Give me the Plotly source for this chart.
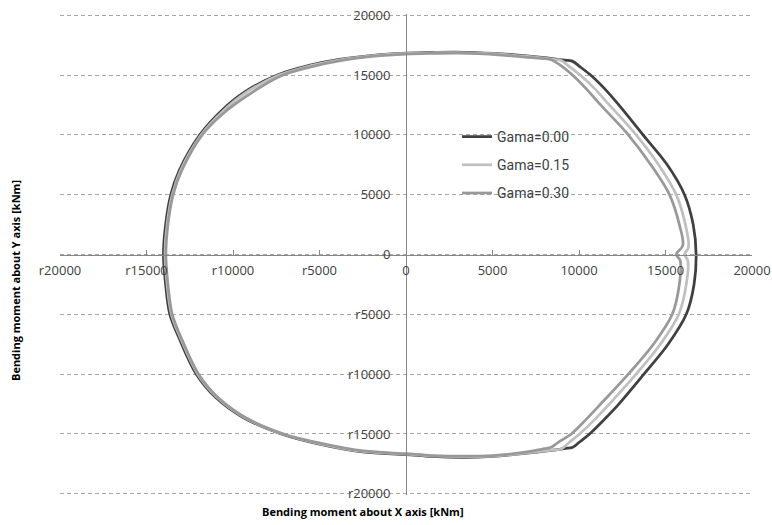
import plotly.graph_objects as go

# ---- data (kNm) ----
g000_x = [9610, 9150, 8000, 6000, 4000, 2900, 1500, 0, -1870, -3860, -5600, -7400, -9300, -10680, -11920,
          -13110, -13595, -13895, -14020, -13895, -13650, -13110, -12120, -10960, -9440, -7200, -5000, -2500, 0,
          1500, 3280, 5000, 7000, 9150, 9640, 10050, 10610, 11450, 12300, 13750, 15150, 16200, 16650, 16770,
          16600, 16100, 15100, 13700, 12300, 11450, 10750, 10050, 9610]
g000_y = [16160, 16240, 16450, 16720, 16880, 16920, 16900, 16830, 16650, 16300, 15800, 15030, 13600, 12000, 10000,
          7020, 5000, 2500, 0, -2500, -5000, -7000, -10000, -12000, -13600, -15000, -15850, -16500, -16720,
          -16880, -16950, -16880, -16600, -16220, -16110, -15650, -15000, -13800, -12500, -10000, -7500, -5000,
          -2500, 0, 2500, 5000, 7500, 10000, 12500, 13900, 14900, 15700, 16160]

g015_x = [8970, 8550, 7000, 5000, 3000, 1500, 0, -1850, -3820, -5550, -7330, -9220, -10600, -11840, -13030,
          -13510, -13810, -13930, -13810, -13560, -13030, -12040, -10880, -9360, -7120, -4950, -2480, 0,
          1500, 3280, 5000, 7000, 8550, 8970, 9400, 10030, 10900, 11750, 13300, 14700, 15770, 16200, 16290,
          16100, 16330, 16150, 15620, 14600, 13300, 11750, 10950, 10150, 9400, 8970]
g015_y = [16220, 16310, 16550, 16780, 16880, 16860, 16800, 16620, 16260, 15760, 14990, 13560, 11960, 10000, 7020,
          5000, 2500, 0, -2500, -5000, -7000, -10000, -12000, -13600, -15000, -15820, -16460, -16680,
          -16840, -16900, -16850, -16580, -16330, -16250, -15750, -15000, -13800, -12500, -10000, -7500, -5000,
          -2500, -500, 0, 600, 2500, 5000, 7500, 10000, 12500, 13800, 14900, 15750, 16220]

g030_x = [8390, 8000, 6500, 4500, 3000, 1500, 0, -1830, -3780, -5500, -7270, -9100, -10520, -11780, -12970,
          -13460, -13760, -13880, -13760, -13510, -12980, -11990, -10830, -9310, -7070, -4900, -2450, 0,
          1500, 3280, 5000, 7000, 8000, 8390, 8800, 9550, 10400, 11250, 12850, 14300, 15390, 15800, 15850,
          15620, 16000, 15800, 15230, 14150, 12850, 11250, 10450, 9700, 8900, 8390]
g030_y = [16280, 16360, 16550, 16760, 16830, 16810, 16750, 16570, 16200, 15680, 14900, 13350, 11850, 10000, 7000,
          5000, 2500, 0, -2500, -5000, -7000, -10000, -12000, -13600, -15000, -15780, -16420, -16650,
          -16800, -16850, -16800, -16500, -16230, -16110, -15700, -15000, -13800, -12500, -10000, -7500, -5000,
          -2500, -500, 0, 750, 2500, 5000, 7500, 10000, 12500, 13800, 14900, 15850, 16280]

series_names = ["Gama=0.00", "Gama=0.15", "Gama=0.30"]
tick_vals = [-20000, -15000, -10000, -5000, 0, 5000, 10000, 15000, 20000]
tick_text = ["r20000", "r15000", "r10000", "r5000", "0", "5000", "10000", "15000", "20000"]

colors = ["#404040", "#c0c0c0", "#999999"]

fig = go.Figure()
for name, xs, ys, c in zip(series_names, [g000_x, g015_x, g030_x], [g000_y, g015_y, g030_y], colors):
    fig.add_trace(go.Scatter(x=xs, y=ys, mode="lines", name=name, legendgroup=name,
                             line=dict(color=c, width=2.75, shape="spline", smoothing=1.0)))

tick_font = dict(family="Open Sans", size=13, color="#404040")

FW, FH = 772, 525
L, R, T, B = 60, 20, 14, 30
W, H = FW - L - R, FH - T - B


def px_x(p):
    return (p - L) / W


def px_y(p):
    return (FH - B - p) / H


fig.update_layout(
    width=FW, height=FH,
    margin=dict(l=L, r=R, t=T, b=B, autoexpand=False),
    paper_bgcolor="white", plot_bgcolor="white",
    showlegend=True,
    legend=dict(x=px_x(457), y=px_y(121), xanchor="left", yanchor="top",
                font=dict(family="Roboto", size=14, color="#404040"),
                bgcolor="rgba(0,0,0,0)", tracegroupgap=7, itemwidth=30),
    xaxis=dict(range=[-20000, 20000], tickvals=tick_vals, ticktext=tick_text,
               showgrid=False, zeroline=False, showline=True, linecolor="#868686", linewidth=1,
               anchor="free", position=0.5, ticks="inside", ticklen=5, tickcolor="#868686",
               tickfont=tick_font, ticklabelstandoff=4, automargin=False),
    yaxis=dict(range=[-20100, 20100], tickvals=tick_vals, ticktext=tick_text,
               showgrid=True, gridcolor="#a6a6a6", griddash="4px,3px", gridwidth=1,
               zeroline=False, showline=True, linecolor="#868686", linewidth=1,
               anchor="free", position=0.5, ticks="outside", ticklen=13, tickcolor="rgba(0,0,0,0)",
               tickfont=tick_font, automargin=False),
    annotations=[
        dict(text="<b>Bending moment about X axis [kNm]</b>", xref="paper", yref="paper",
             x=px_x(363), y=px_y(511), xanchor="center", yanchor="middle",
             showarrow=False, font=dict(family="Open Sans", size=11, color="black")),
        dict(text="<b>Bending moment about Y axis [kNm]</b>", xref="paper", yref="paper",
             x=px_x(15), y=px_y(281), xanchor="center", yanchor="middle",
             textangle=-90, showarrow=False, font=dict(family="Open Sans", size=11, color="black")),
    ],
)

# remove the default 8px page margin so the 772x525 figure fills the window exactly
fig.write_html("out.html", config={"displayModeBar": False},
               post_script="document.body.style.margin='0px';")
